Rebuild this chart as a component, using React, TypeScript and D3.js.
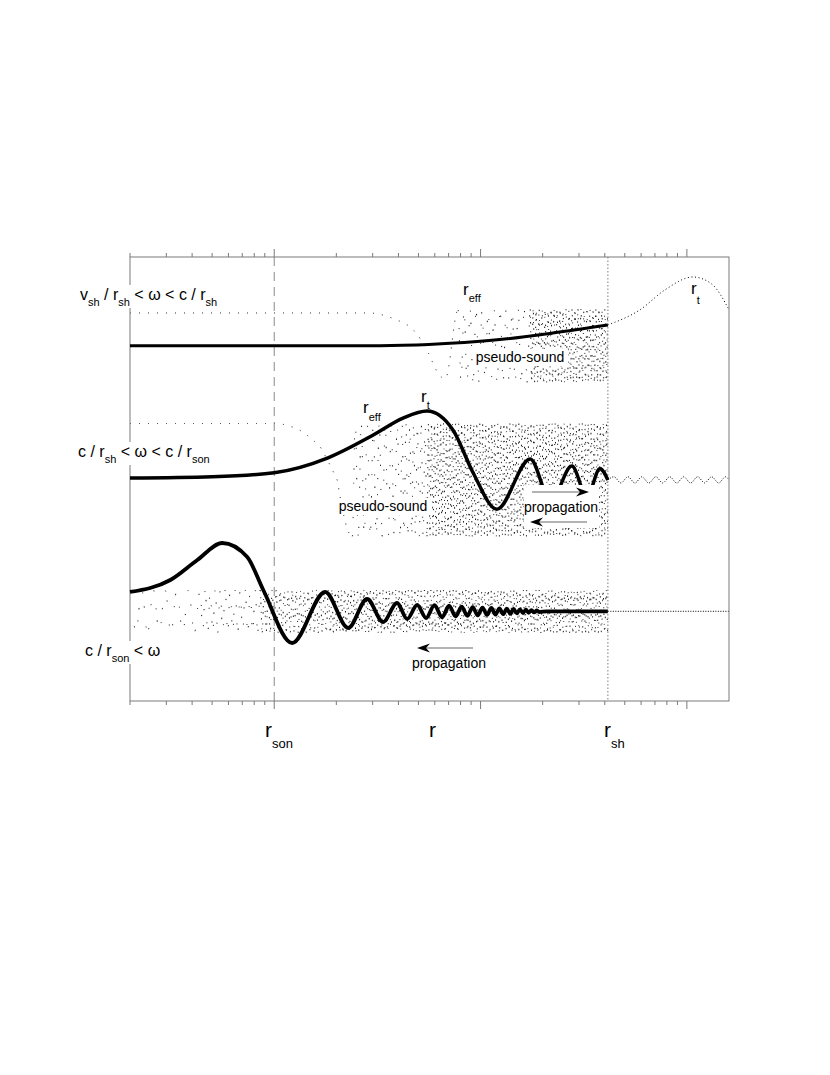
import React from "react";
import * as d3 from "d3";

// ---- values: r on a log axis, y in panel units (0..10) ----
const rDomain = [0.2, 160];
const yDomain = [0, 10];
const rSon = 1;
const rSh = 41.4;

// upper panel (v_sh/r_sh < w < c/r_sh)
const upThickR = [0.2, 2.5, 4.2, 5.6, 7.12, 12.4, 22.4, 41.4];
const upThickY = [8.0, 8.0, 8.012, 8.03, 8.055, 8.14, 8.29, 8.47];
const upOuterR = [41.4, 59.2, 78.3, 107, 132, 160];
const upOuterY = [8.47, 8.81, 9.26, 9.55, 9.39, 8.81];
const upWaveR = [0.2, 2.61, 3.02, 3.65, 4.41, 4.93, 5.69, 6.73, 7.78, 17.4, 41.4];
const upWaveCycles = [0, 0, 0.02, 0.084, 0.14, 0.19, 0.3, 0.5, 1.0, 13, 39];
const upAmpR = [0.2, 6.73, 8, 41.4];
const upAmp = [0.74, 0.74, 0.82, 0.82];
const upCenter = 8.0;
const upBreaks = [0.2, 7.78, 17.4, 41.4]; // smooth | sparse | dense

// middle panel (c/r_sh < w < c/r_son)
const midThickR = [0.2, 0.5, 1, 1.81, 3.02, 4.21, 5.51, 7.36, 9.2, 12.0, 17.4, 21.9, 27.7, 32.8, 37.9, 41.4];
const midThickY = [5.02, 5.05, 5.14, 5.47, 5.99, 6.37, 6.53, 6.1, 5.14, 4.32, 5.45, 4.5, 5.29, 4.6, 5.23, 4.98];
const midOuterR = [41.4, 44.3, 47.9, 51.8, 56.0, 60.5, 65.4, 70.7, 76.4, 82.6, 89.3, 96.5, 104.3, 112.8, 121.9, 131.8, 142.5, 154.0, 160];
const midOuterY = [4.98, 5.05, 4.91, 5.05, 4.91, 5.05, 4.91, 5.05, 4.91, 5.05, 4.91, 5.05, 4.91, 5.05, 4.91, 5.05, 4.91, 5.05, 4.98];
const midWaveR = [0.2, 1, 1.336, 1.67, 2.02, 2.39, 4.08, 5.5, 41.4];
const midWaveCycles = [0, 0, 0.08, 0.15, 0.25, 0.5, 8.5, 15.5, 75.5];
const midAmpR = [0.2, 41.4];
const midAmp = [1.27, 1.27];
const midCenter = 4.98;
const midBreaks = [0.2, 2.39, 5.5, 41.4];

// lower panel (c/r_son < w)
const lowHeadR = [0.2, 0.3136, 0.424, 0.56, 0.74, 0.885, 1.222, 1.766, 2.283, 2.82, 3.37, 3.94, 4.41, 4.93, 5.45];
const lowHeadY = [2.455, 2.725, 3.176, 3.559, 3.243, 2.5, 1.306, 2.455, 1.644, 2.297, 1.779, 2.207, 1.847, 2.162, 1.869];
const lowTailR = [5.98, 6.51, 7.04, 7.57, 8.1, 8.63, 9.16, 9.69, 10.22, 10.75, 11.28, 11.81, 12.34, 12.87, 13.4, 13.93, 14.46, 14.99, 15.52, 16.05, 16.58, 17.11, 17.64, 18.17, 18.7, 19.23];
const lowTailAmp = [0.14, 0.135, 0.125, 0.115, 0.105, 0.1, 0.095, 0.09, 0.085, 0.08, 0.076, 0.072, 0.068, 0.064, 0.06, 0.056, 0.052, 0.048, 0.044, 0.04, 0.036, 0.032, 0.028, 0.024, 0.02, 0.016];
const lowEndR = [21, 41.4];
const lowOuterR = [41.4, 160];
const lowWaveR = [0.2, 0.438, 0.855, 1.87, 41.4];
const lowWaveCycles = [0, 6, 18, 35.5, 122.5];
const lowAmpR = [0.2, 41.4];
const lowAmp = [0.48, 0.48];
const lowCenter = 2.02;
const lowBreaks = [0.21, 0.21, 0.855, 41.4];

const M = { left: 130, right: 729, top: 257, bottom: 701 };
const FONT = "'Liberation Sans', Arial, Helvetica, sans-serif";

type Seg = [string, boolean];

function Rich({ x, y, segs, size, sub, shift, anchor }: any) {
  let prev = false;
  return (
    <text x={x} y={y} fontSize={size} fontFamily={FONT} fill="#000" textAnchor={anchor || "start"} style={{ whiteSpace: "pre" }}>
      {segs.map(([t, s]: Seg, i: number) => {
        const dy = (s ? shift : 0) - (prev ? shift : 0);
        prev = s;
        return (
          <tspan key={i} fontSize={s ? sub : size} dy={dy}>
            {t}
          </tspan>
        );
      })}
    </text>
  );
}

function Arrow({ x1, x2, y }: { x1: number; x2: number; y: number }) {
  const d = x2 > x1 ? 1 : -1;
  return (
    <g>
      <line x1={x1} x2={x2 - d * 8} y1={y} y2={y} stroke="#9a9a9a" strokeWidth={1.4} />
      <path
        d={`M${x2},${y} L${x2 - d * 13},${y - 4.5} L${x2 - d * 9},${y} L${x2 - d * 13},${y + 4.5} Z`}
        fill="#000"
      />
    </g>
  );
}

export default function App() {
  const x = d3.scaleLog().domain(rDomain).range([M.left, M.right]);
  const y = d3.scaleLinear().domain(yDomain).range([M.bottom, M.top]);
  const smooth = d3
    .line<[number, number]>()
    .x((d) => x(d[0]))
    .y((d) => y(d[1]))
    .curve(d3.curveMonotoneX);
  const zip = (a: number[], b: number[]) => a.map((v, i) => [v, b[i]] as [number, number]);

  // fast dotted oscillation ("pseudo-sound" shading)
  const wave = (kR: number[], kC: number[], aR: number[], aV: number[], c: number, r0: number, r1: number) => {
    if (r1 <= r0) return "";
    const ph = d3.scaleLog().domain(kR).range(kC).clamp(true);
    const am = d3.scaleLog().domain(aR).range(aV).clamp(true);
    const pts: [number, number][] = [];
    for (let px = x(r0); px <= x(r1) + 1e-6; px += 0.12) {
      const r = x.invert(px);
      pts.push([px, y(c + am(r) * Math.cos(2 * Math.PI * ph(r)))]);
    }
    return d3.line()(pts) || "";
  };

  const lowPts: [number, number][] = [
    ...zip(lowHeadR, lowHeadY),
    ...lowTailR.map((r, i) => [r, lowCenter + (i % 2 === 0 ? 1 : -1) * lowTailAmp[i]] as [number, number]),
    ...lowEndR.map((r) => [r, lowCenter] as [number, number]),
  ];

  const ticks = x.ticks();
  const isMajor = (v: number) => Math.abs(Math.log10(v) - Math.round(Math.log10(v))) < 1e-6;

  const dotted = { fill: "none", stroke: "#000", strokeWidth: 1, strokeDasharray: "1 8" };
  const sparse = {
    fill: "none",
    stroke: "#000",
    strokeWidth: 0.9,
    strokeDasharray: "1.2 17 1 11 1.5 21 0.9 13 1.3 19 1 9 1.2 23 1 15",
  };
  const dense = {
    fill: "none",
    stroke: "#000",
    strokeWidth: 0.9,
    strokeDasharray: "1.3 6.1 0.9 4.3 1.6 7.7 1 5.3 1.4 8.9 0.8 3.7 1.2 6.7 1 9.7 1.5 4.9",
  };

  const panels = [
    { kR: upWaveR, kC: upWaveCycles, aR: upAmpR, aV: upAmp, c: upCenter, b: upBreaks },
    { kR: midWaveR, kC: midWaveCycles, aR: midAmpR, aV: midAmp, c: midCenter, b: midBreaks },
    { kR: lowWaveR, kC: lowWaveCycles, aR: lowAmpR, aV: lowAmp, c: lowCenter, b: lowBreaks },
  ];

  return (
    <svg width={830} height={1075} style={{ position: "absolute", left: 0, top: 0, background: "#fff" }}>
      {/* dotted solutions: slow part, sparse shading, dense shading */}
      {panels.map((p, i) => (
        <g key={i}>
          <path d={wave(p.kR, p.kC, p.aR, p.aV, p.c, p.b[0], p.b[1])} {...dotted} />
          <path d={wave(p.kR, p.kC, p.aR, p.aV, p.c, p.b[1], p.b[2])} {...sparse} />
          <path d={wave(p.kR, p.kC, p.aR, p.aV, p.c, p.b[2], p.b[3])} {...dense} />
        </g>
      ))}

      {/* continuations beyond r_sh */}
      <path d={smooth(zip(upOuterR, upOuterY)) || ""} fill="none" stroke="#000" strokeWidth={1} strokeDasharray="1 2.6" />
      <path d={smooth(zip(midOuterR, midOuterY)) || ""} fill="none" stroke="#000" strokeWidth={1} strokeDasharray="1 1.6" />
      <path d={smooth(lowOuterR.map((r) => [r, lowCenter] as [number, number])) || ""} fill="none" stroke="#000" strokeWidth={1} strokeDasharray="1 1.5" />

      {/* reference lines */}
      <line x1={x(rSon)} x2={x(rSon)} y1={M.top} y2={M.bottom} stroke="#8a8a8a" strokeWidth={1} strokeDasharray="9 6" />
      <line x1={x(rSh)} x2={x(rSh)} y1={M.top} y2={M.bottom} stroke="#9a9a9a" strokeWidth={1.3} strokeDasharray="1.5 2" />

      {/* frame and log ticks */}
      <rect x={M.left} y={M.top} width={M.right - M.left} height={M.bottom - M.top} fill="none" stroke="#7a7a7a" strokeWidth={1} />
      {ticks.map((t, i) => {
        const len = isMajor(t) ? 8 : 4;
        const px = x(t);
        return (
          <g key={i} stroke="#7a7a7a" strokeWidth={1}>
            <line x1={px} x2={px} y1={M.top} y2={M.top - len} />
            <line x1={px} x2={px} y1={M.bottom} y2={M.bottom + len} />
          </g>
        );
      })}

      {/* main curves */}
      <path d={smooth(zip(upThickR, upThickY)) || ""} fill="none" stroke="#000" strokeWidth={3} />
      <path d={smooth(zip(midThickR, midThickY)) || ""} fill="none" stroke="#000" strokeWidth={3.5} />
      <path d={smooth(lowPts) || ""} fill="none" stroke="#000" strokeWidth={3.8} strokeLinejoin="round" />

      {/* label backgrounds */}
      <rect x={77} y={285} width={144} height={23} fill="#fff" />
      <rect x={75} y={442} width={143} height={23} fill="#fff" />
      <rect x={82} y={641} width={80} height={23} fill="#fff" />
      <rect x={473} y={349} width={95} height={17} fill="#fff" />
      <rect x={336} y={498} width={95} height={17} fill="#fff" />
      <rect x={524} y={485} width={75} height={43} fill="#fff" />

      {/* panel conditions */}
      <Rich x={80} y={300} size={16} sub={11} shift={6}
        segs={[["v", false], ["sh", true], [" / r", false], ["sh", true], [" < \u03c9 < c / r", false], ["sh", true]]} />
      <Rich x={78} y={457} size={16} sub={11} shift={6}
        segs={[["c / r", false], ["sh", true], [" < \u03c9 < c / r", false], ["son", true]]} />
      <Rich x={85} y={656} size={16} sub={11} shift={6}
        segs={[["c / r", false], ["son", true], [" < \u03c9", false]]} />

      {/* annotations */}
      <Rich x={463} y={295} size={17} sub={11} shift={7} segs={[["r", false], ["eff", true]]} />
      <Rich x={691} y={294} size={17} sub={11} shift={10} segs={[["r", false], ["t", true]]} />
      <Rich x={363} y={413} size={17} sub={11} shift={8} segs={[["r", false], ["eff", true]]} />
      <Rich x={421} y={402} size={17} sub={11} shift={7} segs={[["r", false], ["t", true]]} />

      <text x={520} y={362} fontSize={14} fontFamily={FONT} textAnchor="middle">pseudo-sound</text>
      <text x={383} y={511} fontSize={14} fontFamily={FONT} textAnchor="middle">pseudo-sound</text>
      <text x={561} y={512} fontSize={14} fontFamily={FONT} textAnchor="middle">propagation</text>
      <text x={449} y={668} fontSize={14} fontFamily={FONT} textAnchor="middle">propagation</text>

      <Arrow x1={532} x2={589} y={492} />
      <Arrow x1={587} x2={530} y={522} />
      <Arrow x1={473} x2={417} y={648} />

      {/* axis labels */}
      <Rich x={265} y={737} size={21} sub={13} shift={11} segs={[["r", false], ["son", true]]} />
      <Rich x={429} y={737} size={21} sub={13} shift={11} segs={[["r", false]]} />
      <Rich x={604} y={737} size={21} sub={13} shift={11} segs={[["r", false], ["sh", true]]} />
    </svg>
  );
}
